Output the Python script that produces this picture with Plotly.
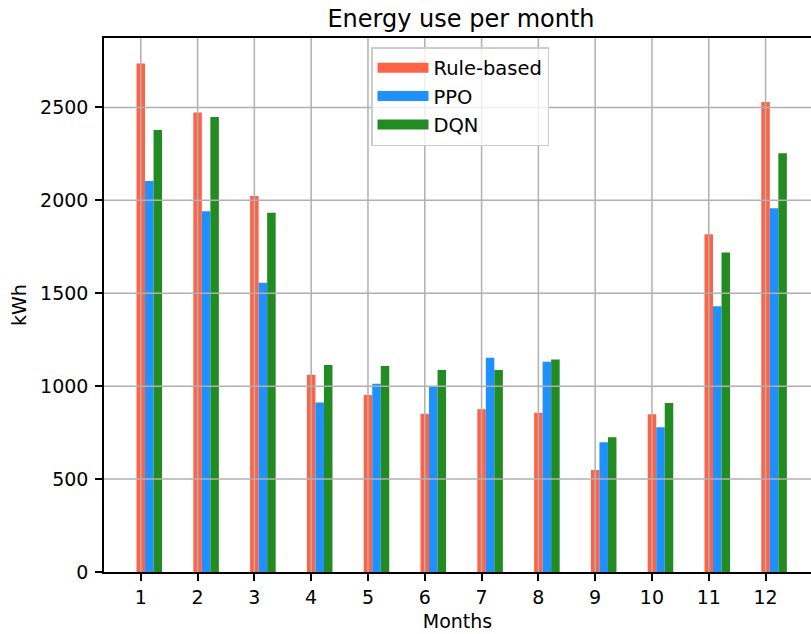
import plotly.graph_objects as go

months = [1, 2, 3, 4, 5, 6, 7, 8, 9, 10, 11, 12]
rule_based = [2737, 2473, 2023, 1061, 952, 851, 876, 857, 549, 849, 1818, 2530]
ppo = [2104, 1942, 1557, 912, 1013, 998, 1153, 1132, 698, 779, 1430, 1957]
dqn = [2379, 2449, 1934, 1114, 1108, 1087, 1087, 1144, 725, 909, 1719, 2254]
y_ticks = [0, 500, 1000, 1500, 2000, 2500]
series_names = ["Rule-based", "PPO", "DQN"]
colors = ["#FF6347", "#1E90FF", "#228B22"]

FONT = "DejaVu Sans"
bar_w = 0.15
ymax = max(rule_based + ppo + dqn) * 1.05

fig = go.Figure()
for i, (name, vals, col) in enumerate(zip(series_names, [rule_based, ppo, dqn], colors)):
    fig.add_trace(go.Bar(
        x=months, y=vals, name=name,
        width=bar_w, offset=-bar_w / 2 + i * bar_w,
        marker=dict(color=col, line=dict(width=0)),
        showlegend=False,
    ))
# legend entries drawn as wide patches (legend-only)
for name, col in zip(series_names, colors):
    fig.add_trace(go.Scatter(
        x=[None], y=[None], mode="lines", name=name,
        line=dict(color=col, width=13),
    ))

grid_col = "#b0b0b0"
shapes = []
for m in months:
    shapes.append(dict(type="line", xref="x", yref="y", x0=m, x1=m, y0=0, y1=ymax,
                       line=dict(color=grid_col, width=1.5), layer="above"))
for t in y_ticks[1:]:
    shapes.append(dict(type="line", xref="paper", yref="y", x0=0, x1=1, y0=t, y1=t,
                       line=dict(color=grid_col, width=1.5), layer="above"))

fig.update_layout(
    width=811, height=634,
    margin=dict(l=104, r=0, t=38, b=62),
    paper_bgcolor="white", plot_bgcolor="white",
    barmode="overlay",
    font=dict(family=FONT, size=19, color="black"),
    title=dict(text="Energy use per month", font=dict(family=FONT, size=24, color="black"),
               x=461 / 811, xref="container", xanchor="center",
               y=1 - 19 / 634, yref="container", yanchor="middle"),
    shapes=shapes,
    showlegend=True,
    legend=dict(x=(371 - 104) / 707, y=(572 - 47) / 534, xanchor="left", yanchor="top",
                bgcolor="rgba(255,255,255,0.8)", bordercolor="#cccccc", borderwidth=1.5,
                font=dict(family=FONT, size=19.5, color="black"),
                tracegroupgap=0, itemwidth=51),
)
fig.update_xaxes(
    range=[0.3525, 12.80], tickvals=months, ticktext=[str(m) for m in months],
    showgrid=False, zeroline=False,
    showline=True, linecolor="black", linewidth=1.5, mirror=True,
    ticks="outside", ticklen=7, tickwidth=1.5, tickcolor="black",
    tickfont=dict(family=FONT, size=19, color="black"),
    title=dict(text="Months", font=dict(family=FONT, size=19, color="black"), standoff=8),
)
fig.update_yaxes(
    range=[0, ymax], tickvals=y_ticks, ticktext=[str(t) for t in y_ticks],
    showgrid=False, zeroline=False,
    showline=True, linecolor="black", linewidth=1.5, mirror=False,
    ticks="outside", ticklen=7, tickwidth=1.5, tickcolor="black", ticklabelstandoff=3,
    tickfont=dict(family=FONT, size=19, color="black"),
    title=dict(text="kWh", font=dict(family=FONT, size=19, color="black"), standoff=8),
)

fig.write_html("out.html")
